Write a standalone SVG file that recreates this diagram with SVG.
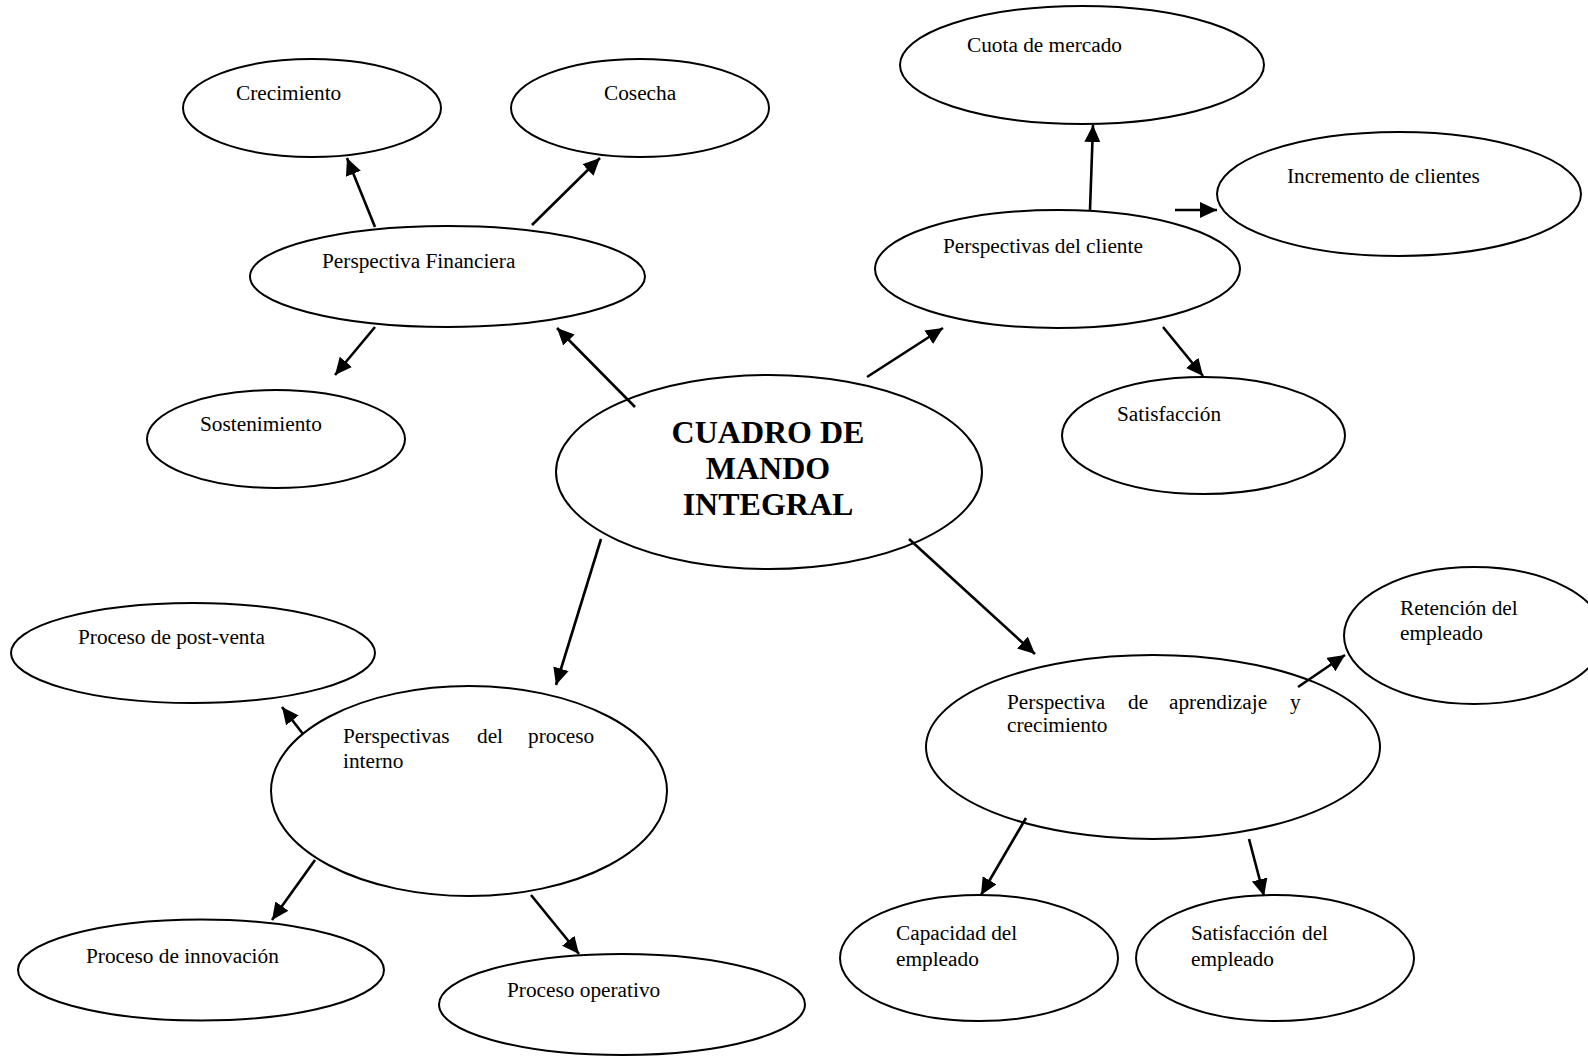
<svg xmlns="http://www.w3.org/2000/svg" width="1588" height="1056" viewBox="0 0 1588 1056">
  <style>
    .node { fill: #ffffff; stroke: #000000; stroke-width: 2; }
    .lbl { font-family: "Liberation Serif", "Times New Roman", serif; font-size: 21.3px; fill: #000000; }
    .title { font-family: "Liberation Serif", "Times New Roman", serif; font-size: 32px; font-weight: bold; fill: #000000; text-anchor: middle; }
    .edge { stroke: #000000; stroke-width: 2.6; fill: none; marker-end: url(#arrow); }
  </style>
  <defs>
    <marker id="arrow" markerUnits="userSpaceOnUse" markerWidth="20" markerHeight="18" refX="17" refY="8" orient="auto">
      <path d="M0,0 L17,8 L0,16 z" fill="#000000"/>
    </marker>
  </defs>
  <rect width="1588" height="1056" fill="#ffffff"/>

  <!-- nodes -->
  <g id="cuadro">
    <ellipse class="node" cx="769" cy="472" rx="213" ry="97"/>
    <text class="title" x="768" y="443">CUADRO DE</text>
    <text class="title" x="768" y="479">MANDO</text>
    <text class="title" x="768" y="515">INTEGRAL</text>
  </g>

  <g id="financiera">
    <ellipse class="node" cx="447.5" cy="276.5" rx="197.5" ry="50.5"/>
    <text class="lbl" x="322" y="268">Perspectiva Financiera</text>
  </g>
  <g id="crecimiento">
    <ellipse class="node" cx="312" cy="108" rx="129" ry="49"/>
    <text class="lbl" x="236" y="100">Crecimiento</text>
  </g>
  <g id="cosecha">
    <ellipse class="node" cx="640" cy="108" rx="129" ry="49"/>
    <text class="lbl" x="604" y="100">Cosecha</text>
  </g>
  <g id="sostenimiento">
    <ellipse class="node" cx="276" cy="439" rx="129" ry="49"/>
    <text class="lbl" x="200" y="431">Sostenimiento</text>
  </g>

  <g id="cliente">
    <ellipse class="node" cx="1057.5" cy="269" rx="182.5" ry="59"/>
    <text class="lbl" x="943" y="253">Perspectivas del cliente</text>
  </g>
  <g id="cuota">
    <ellipse class="node" cx="1082" cy="65" rx="182" ry="59"/>
    <text class="lbl" x="967" y="52">Cuota de mercado</text>
  </g>
  <g id="incremento">
    <ellipse class="node" cx="1399" cy="194" rx="182" ry="62"/>
    <text class="lbl" x="1287" y="183">Incremento de clientes</text>
  </g>
  <g id="satisfaccion">
    <ellipse class="node" cx="1203.5" cy="435.5" rx="141.5" ry="58.5"/>
    <text class="lbl" x="1117" y="421">Satisfacción</text>
  </g>

  <g id="proceso-interno">
    <ellipse class="node" cx="469" cy="791" rx="198" ry="105"/>
    <text class="lbl" y="743"><tspan x="343">Perspectivas</tspan><tspan x="477">del</tspan><tspan x="528">proceso</tspan></text>
    <text class="lbl" x="343" y="768">interno</text>
  </g>
  <g id="post-venta">
    <ellipse class="node" cx="193" cy="653" rx="182" ry="50"/>
    <text class="lbl" x="78" y="644">Proceso de post-venta</text>
  </g>
  <g id="innovacion">
    <ellipse class="node" cx="201" cy="970" rx="183" ry="50.5"/>
    <text class="lbl" x="86" y="963">Proceso de innovación</text>
  </g>
  <g id="operativo">
    <ellipse class="node" cx="622" cy="1004.5" rx="183" ry="50.5"/>
    <text class="lbl" x="507" y="997">Proceso operativo</text>
  </g>

  <g id="aprendizaje">
    <ellipse class="node" cx="1153" cy="747" rx="227" ry="92"/>
    <text class="lbl" y="709"><tspan x="1007">Perspectiva</tspan><tspan x="1128">de</tspan><tspan x="1169">aprendizaje</tspan><tspan x="1290">y</tspan></text>
    <text class="lbl" x="1007" y="732">crecimiento</text>
  </g>
  <g id="retencion">
    <ellipse class="node" cx="1474" cy="635.5" rx="130" ry="68.5"/>
    <text class="lbl" x="1400" y="615">Retención del</text>
    <text class="lbl" x="1400" y="640">empleado</text>
  </g>
  <g id="capacidad">
    <ellipse class="node" cx="979" cy="958" rx="139" ry="63"/>
    <text class="lbl" x="896" y="940">Capacidad del</text>
    <text class="lbl" x="896" y="966">empleado</text>
  </g>
  <g id="satisfaccion-empleado">
    <ellipse class="node" cx="1275" cy="958" rx="139" ry="63"/>
    <text class="lbl" y="940"><tspan x="1191">Satisfacción</tspan><tspan x="1302">del</tspan></text>
    <text class="lbl" x="1191" y="966">empleado</text>
  </g>

  <!-- connectors -->
  <g id="connectors">
    <line class="edge" x1="635" y1="407" x2="557" y2="328"/>
    <line class="edge" x1="867" y1="377" x2="943" y2="328"/>
    <line class="edge" x1="601" y1="539" x2="556" y2="685"/>
    <line class="edge" x1="909" y1="539" x2="1035" y2="654"/>

    <line class="edge" x1="375" y1="227" x2="347" y2="158"/>
    <line class="edge" x1="532" y1="225" x2="600" y2="158"/>
    <line class="edge" x1="375" y1="327" x2="335" y2="375"/>

    <line class="edge" x1="1090" y1="210" x2="1093" y2="125"/>
    <line class="edge" x1="1175" y1="210" x2="1217" y2="210"/>
    <line class="edge" x1="1163" y1="327" x2="1203" y2="376"/>

    <line class="edge" x1="303" y1="734" x2="282" y2="707"/>
    <line class="edge" x1="315" y1="860" x2="272" y2="920"/>
    <line class="edge" x1="531" y1="895" x2="579" y2="954"/>

    <line class="edge" x1="1298" y1="687" x2="1345" y2="655"/>
    <line class="edge" x1="1026" y1="818" x2="981" y2="895"/>
    <line class="edge" x1="1249" y1="839" x2="1264" y2="896"/>
  </g>
</svg>
